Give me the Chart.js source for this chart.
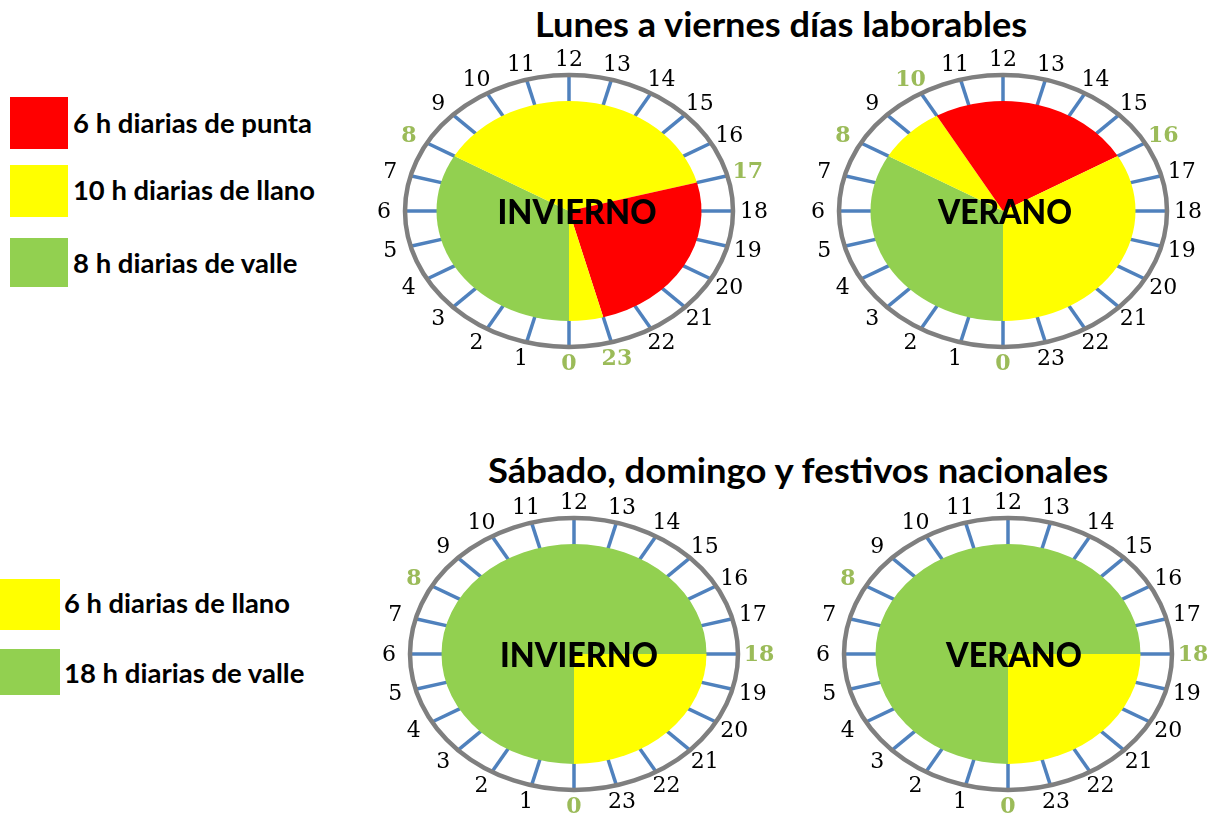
<!DOCTYPE html>
<html><head><meta charset="utf-8">
<script src="https://cdn.jsdelivr.net/npm/chart.js@4.4.0/dist/chart.umd.min.js"></script>
<style>
html,body{margin:0;padding:0;background:#fff;width:1219px;height:821px;overflow:hidden;position:relative;}
.t{position:absolute;font-family:Lato,sans-serif;font-weight:700;color:#000;white-space:nowrap;transform-origin:0 0;}
.box{position:absolute;}
canvas{position:absolute;}
</style></head><body>
<script>
// ---------- data ----------
const hourLabels = ['0','1','2','3','4','5','6','7','8','9','10','11','12','13','14','15','16','17','18','19','20','21','22','23'];

const titleLab = 'Lunes a viernes días laborables';
const titleFes = 'Sábado, domingo y festivos nacionales';

const legendLabKeys = ['punta','llano','valle'];
const legendLabText = ['6 h diarias de punta','10 h diarias de llano','8 h diarias de valle'];
const legendFesKeys = ['llano','valle'];
const legendFesText = ['6 h diarias de llano','18 h diarias de valle'];

// slices in clock order starting at 0 h, going round the dial
const invLabSeg = ['valle','llano','punta','llano'];
const invLabHours = [8, 9, 6, 1];
const verLabSeg = ['valle','llano','punta','llano'];
const verLabHours = [8, 2, 6, 8];
const invFesSeg = ['valle','llano'];
const invFesHours = [18, 6];
const verFesSeg = ['valle','llano'];
const verFesHours = [18, 6];

// hour labels drawn in green
const invLabMarked = [0, 8, 17, 23];
const verLabMarked = [0, 8, 10, 16];
const invFesMarked = [0, 8, 18];
const verFesMarked = [0, 8, 18];

// ---------- styles ----------
const COL = {punta:'#ff0000', llano:'#ffff00', valle:'#92d050'};
const K = 0.83;            // vertical squash of the dial
const R_PIE = 132.5;
const RING_RX = 164, RING_RY = 136;
const TICK_IN = 131;
const LAB_RX = 185, LAB_RY = 152;

const mc = document.createElement('canvas').getContext('2d');

function placeText(text, left, baseline, size, targetW){
  const d = document.createElement('div');
  d.className = 't';
  d.textContent = text;
  const font = `700 ${size}px Lato`;
  mc.font = font;
  const m = mc.measureText(text);
  const A = m.fontBoundingBoxAscent, D = m.fontBoundingBoxDescent;
  d.style.font = font;
  d.style.lineHeight = size + 'px';
  d.style.left = left + 'px';
  d.style.top = (baseline - ((size - (A + D)) / 2 + A)) + 'px';
  d.style.transform = `scaleX(${targetW / m.width})`;
  document.body.appendChild(d);
}
function placeBox(color, left, top, w, h){
  const b = document.createElement('div');
  b.className = 'box';
  b.style.cssText = `left:${left}px;top:${top}px;width:${w}px;height:${h}px;background:${color};`;
  document.body.appendChild(b);
}

// titles
placeText(titleLab, 535, 37, 34, 493);
placeText(titleFes, 488, 483, 34, 622);

// legends
const labBoxTop = [97, 165, 238], labBoxH = [52, 52, 49], labBase = [133, 200, 273], labW = [239, 242, 225];
legendLabKeys.forEach((k, i) => {
  placeBox(COL[k], 10, labBoxTop[i], 58, labBoxH[i]);
  placeText(legendLabText[i], 73, labBase[i], 26, labW[i]);
});
const fesBoxTop = [579, 649], fesBoxH = [51, 46], fesBase = [613, 683], fesW = [226, 241];
legendFesKeys.forEach((k, i) => {
  placeBox(COL[k], 0, fesBoxTop[i], 60, fesBoxH[i]);
  placeText(legendFesText[i], 64, fesBase[i], 26, fesW[i]);
});

function clockPlugin(cfg){
  return {
    id: 'clock',
    beforeDatasetsDraw(chart){
      const ctx = chart.ctx;
      const a0 = chart.chartArea;
      const cx = (a0.left + a0.right) / 2, cy = (a0.top + a0.bottom) / 2;
      ctx.save();
      ctx.lineWidth = 3.5; ctx.strokeStyle = '#4f81bd'; ctx.lineCap = 'butt';
      hourLabels.forEach((lab, h) => {
        const a = h * Math.PI / 12, ux = -Math.sin(a), uy = Math.cos(a);
        ctx.beginPath();
        ctx.moveTo(cx + RING_RX * ux, cy + RING_RY * uy);
        ctx.lineTo(cx + TICK_IN * ux, cy + TICK_IN * K * uy);
        ctx.stroke();
      });
      ctx.beginPath();
      ctx.ellipse(cx, cy, RING_RX, RING_RY, 0, 0, Math.PI * 2);
      ctx.lineWidth = 4.5; ctx.strokeStyle = '#7f7f7f'; ctx.stroke();
      ctx.restore();
      ctx.save();
      ctx.translate(cx, cy); ctx.scale(1, K); ctx.translate(-cx, -cy);
    },
    afterDatasetsDraw(chart){
      const ctx = chart.ctx;
      ctx.restore();
      const a0 = chart.chartArea;
      const cx = (a0.left + a0.right) / 2, cy = (a0.top + a0.bottom) / 2;
      ctx.save();
      ctx.textAlign = 'center'; ctx.textBaseline = 'middle';
      hourLabels.forEach((lab, h) => {
        const a = h * Math.PI / 12, ux = -Math.sin(a), uy = Math.cos(a);
        const mk = cfg.marked.includes(h);
        ctx.font = (mk ? 'bold ' : '') + '22px "DejaVu Serif"';
        ctx.fillStyle = mk ? '#9bbb59' : '#000000';
        ctx.fillText(lab, cx + LAB_RX * ux, cy + LAB_RY * uy + 1);
      });
      ctx.font = '900 35px Lato';
      const w = ctx.measureText(cfg.name).width;
      ctx.textBaseline = 'alphabetic';
      ctx.fillStyle = '#000';
      ctx.translate(cx + cfg.nameDx, cy + 13);
      ctx.scale(cfg.nameW / w, 1);
      ctx.fillText(cfg.name, 0, 0);
      ctx.restore();
    }
  };
}

const clocks = [
  {cx:569,  cy:211, seg:invLabSeg, hrs:invLabHours, marked:invLabMarked, name:'INVIERNO', nameW:159, nameDx:8},
  {cx:1003, cy:211, seg:verLabSeg, hrs:verLabHours, marked:verLabMarked, name:'VERANO',   nameW:134, nameDx:2},
  {cx:574,  cy:654, seg:invFesSeg, hrs:invFesHours, marked:invFesMarked, name:'INVIERNO', nameW:158, nameDx:5},
  {cx:1008, cy:654, seg:verFesSeg, hrs:verFesHours, marked:verFesMarked, name:'VERANO',   nameW:136, nameDx:6}
];

const W = 430, H = 340;
clocks.forEach(c => {
  const cv = document.createElement('canvas');
  cv.width = W; cv.height = H;
  cv.style.left = (c.cx - W / 2) + 'px';
  cv.style.top = (c.cy - H / 2) + 'px';
  cv.style.width = W + 'px'; cv.style.height = H + 'px';
  document.body.appendChild(cv);
  new Chart(cv, {
    type: 'pie',
    data: {
      labels: c.seg,
      datasets: [{
        data: c.hrs,
        backgroundColor: c.seg.map(s => COL[s]),
        borderWidth: 0
      }]
    },
    options: {
      responsive: false,
      devicePixelRatio: 1,
      animation: false,
      events: [],
      rotation: 180,
      radius: R_PIE,
      layout: {padding: 0},
      plugins: {legend: {display: false}, tooltip: {enabled: false}}
    },
    plugins: [clockPlugin(c)]
  });
});
</script>
</body></html>
